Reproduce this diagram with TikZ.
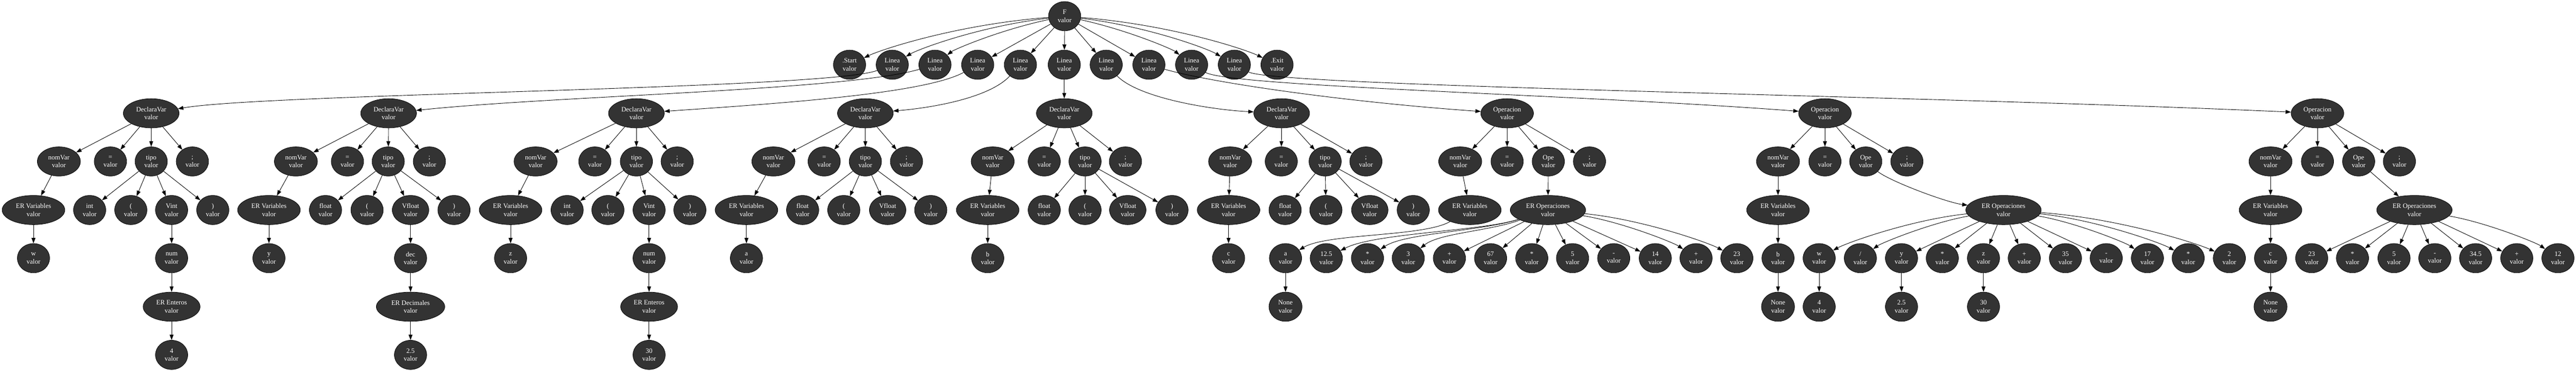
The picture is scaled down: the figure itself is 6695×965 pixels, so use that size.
\documentclass[tikz,border=0pt]{standalone}
\usepackage{fontspec}
\setmainfont{Liberation Serif}
\usetikzlibrary{shapes.geometric,arrows.meta}
\definecolor{nodegray}{HTML}{333333}
\tikzset{
  nd/.style={ellipse, draw=black, line width=0.5pt, fill=nodegray, text=white,
    font=\fontsize{8.7}{10.4}\selectfont, align=center, inner sep=0pt,
    minimum width=42pt, minimum height=38pt},
  wDV/.style={minimum width=72.5pt},
  wOp/.style={minimum width=68.5pt},
  wNom/.style={minimum width=56pt},
  wERV/.style={minimum width=81.5pt},
  wERE/.style={minimum width=74pt},
  wERD/.style={minimum width=89pt},
  wERO/.style={minimum width=98pt},
  wNone/.style={minimum width=43pt},
  arr/.style={draw=black, line width=0.6pt, -{Triangle[length=7pt,width=5pt]}},
}
\newcommand\cedge[3]{\draw[arr] (#1) .. controls +({0.5*(#3)},{12000/abs(#3)}) and +({-0.15*(#3)},-40) .. (#2);}
\newcommand\autoedge[3]{\pgfmathtruncatemacro\flagc{abs(#3)>299}\ifnum\flagc=1 \cedge{#1}{#2}{#3}\else\draw[arr] (#1) -- (#2);\fi}
\begin{document}
\begin{tikzpicture}[x=0.5pt,y=-0.5pt]
\useasboundingbox (0,0) rectangle (6695,965);
% ---------- levels 0 and 1
\node[nd] (F) at (2767,42) {F\\valor};
\node[nd] (S) at (2208,168) {.Start\\valor};
\foreach \k/\xx in {1/2319,2/2430,3/2541,4/2652,5/2766,6/2875,7/2986,8/3097,9/3208}
  {\node[nd] (L\k) at (\xx,168) {Linea\\valor};}
\node[nd] (X) at (3319,168) {.Exit\\valor};
\foreach \n/\dx in {S/-559,L1/-448,L2/-337,L3/-226,L4/-115,L5/-1,L6/108,L7/219,L8/330,L9/441,X/552}
  {\autoedge{F}{\n}{\dx}}
% ---------- DeclaraVar subtrees
\foreach \k/\xD/\xn/\xe/\xt/\xs/\xv/\xta/\xtb/\xtc/\xtd/\ty/\vt/\vw/\wv in {
 1/393/153/287/393/500/87/233/340/446/553/int/Vint/w/42pt,
 2/1010/769/903/1009/1116/699/846/954/1067/1180/float/Vfloat/y/47.5pt,
 3/1654/1392/1546/1654/1760/1327/1474/1580/1687/1793/int/Vint/z/42pt,
 4/2249/2010/2142/2249/2356/1940/2086/2193/2307/2419/float/Vfloat/a/47.5pt,
 5/2766/2580/2714/2820/2925/2567/2714/2820/2931/3046/float/Vfloat/b/47.5pt,
 6/3331/3197/3330/3444/3550/3193/3340/3446/3560/3673/float/Vfloat/c/47.5pt}
{
 \node[nd,wDV] (D\k) at (\xD,294) {DeclaraVar\\valor};
 \node[nd,wNom] (n\k) at (\xn,419) {nomVar\\valor};
 \node[nd] (e\k) at (\xe,419) {=\\valor};
 \node[nd] (t\k) at (\xt,419) {tipo\\valor};
 \node[nd] (s\k) at (\xs,419) {;\\valor};
 \node[nd,wERV] (v\k) at (\xv,545) {ER Variables\\valor};
 \node[nd] (ta\k) at (\xta,545) {\ty\\valor};
 \node[nd] (tb\k) at (\xtb,545) {(\\valor};
 \node[nd,minimum width=\wv] (tc\k) at (\xtc,545) {\vt\\valor};
 \node[nd] (td\k) at (\xtd,545) {)\\valor};
 \node[nd] (x\k) at (\xv,670) {\vw\\valor};
 \draw[arr] (D\k) -- (n\k);
 \draw[arr] (D\k) -- (e\k);
 \draw[arr] (D\k) -- (t\k);
 \draw[arr] (D\k) -- (s\k);
 \draw[arr] (n\k) -- (v\k);
 \draw[arr] (v\k) -- (x\k);
 \draw[arr] (t\k) -- (ta\k);
 \draw[arr] (t\k) -- (tb\k);
 \draw[arr] (t\k) -- (tc\k);
 \draw[arr] (t\k) -- (td\k);
}
% number chains
\node[nd] (g1) at (446,670) {num\\valor};
\node[nd,wERE] (h1) at (446,796) {ER Enteros\\valor};
\node[nd] (f1) at (446,921) {4\\valor};
\node[nd] (g2) at (1067,670) {dec\\valor};
\node[nd,wERD] (h2) at (1067,796) {ER Decimales\\valor};
\node[nd] (f2) at (1067,921) {2.5\\valor};
\node[nd] (g3) at (1687,670) {num\\valor};
\node[nd,wERE] (h3) at (1687,796) {ER Enteros\\valor};
\node[nd] (f3) at (1687,921) {30\\valor};
\foreach \k in {1,2,3}{
 \draw[arr] (tc\k) -- (g\k);
 \draw[arr] (g\k) -- (h\k);
 \draw[arr] (h\k) -- (f\k);
}
% ---------- Operacion subtrees
\foreach \k/\xO/\xn/\xe/\xp/\xs/\xv/\xa/\xo/\vw in {
 1/3917/3795/3917/4024/4131/3820/3341/4023/a,
 2/4743/4621/4743/4849/4956/4621/4621/5207/b,
 3/6023/5901/6023/6130/6236/5901/5901/6275/c}
{
 \node[nd,wOp] (O\k) at (\xO,294) {Operacion\\valor};
 \node[nd,wNom] (on\k) at (\xn,419) {nomVar\\valor};
 \node[nd] (oe\k) at (\xe,419) {=\\valor};
 \node[nd] (op\k) at (\xp,419) {Ope\\valor};
 \node[nd] (os\k) at (\xs,419) {;\\valor};
 \node[nd,wERV] (ov\k) at (\xv,545) {ER Variables\\valor};
 \node[nd,wERO] (oo\k) at (\xo,545) {ER Operaciones\\valor};
 \node[nd] (oa\k) at (\xa,670) {\vw\\valor};
 \node[nd,wNone] (oz\k) at (\xa,796) {None\\valor};
 \draw[arr] (O\k) -- (on\k);
 \draw[arr] (O\k) -- (oe\k);
 \draw[arr] (O\k) -- (op\k);
 \draw[arr] (O\k) -- (os\k);
 \draw[arr] (on\k) -- (ov\k);
 \draw[arr] (oa\k) -- (oz\k);
}
\draw[arr] (ov1) .. controls (3700,615) and (3450,605) .. (oa1);
\draw[arr] (ov2) -- (oa2);
\draw[arr] (ov3) -- (oa3);
\draw[arr] (op1) -- (oo1);
\draw[arr] (op2) .. controls +(60,50) and +(-150,-20) .. (oo2);
\draw[arr] (op3) -- (oo3);
% children of ER Operaciones 1
\foreach \i/\xx/\lab in {1/3447/12.5,2/3554/*,3/3660/3,4/3767/+,5/3874/67,6/3981/*,7/4087/5,8/4194/-,9/4302/14,10/4408/+,11/4514/23}
  {\node[nd] (r1-\i) at (\xx,670) {\lab\\valor};}
\draw[arr] (oo1) .. controls (3850,600) and (3570,605) .. (r1-1);
\draw[arr] (oo1) .. controls (3850,600) and (3650,605) .. (r1-2);
\draw[arr] (oo1) .. controls (3870,600) and (3740,605) .. (r1-3);
\foreach \i/\dx in {4/-256,5/-149,6/-42,7/64,8/171,9/279,10/385,11/491}
  {\autoedge{oo1}{r1-\i}{\dx}}
% children of ER Operaciones 2
\foreach \i/\xx/\lab in {1/4728/w,2/4835/\slash,3/4942/y,4/5048/*,5/5155/z,6/5261/+,7/5368/35,8/5474/-,9/5581/17,10/5687/*,11/5794/2}
  {\node[nd] (r2-\i) at (\xx,670) {\lab\\valor};}
\foreach \i/\dx in {1/-479,2/-372,3/-265,4/-159,5/-52,6/54,7/161,8/267,9/374,10/480,11/587}
  {\autoedge{oo2}{r2-\i}{\dx}}
\node[nd] (q1) at (4728,796) {4\\valor};
\node[nd] (q2) at (4942,796) {2.5\\valor};
\node[nd] (q3) at (5155,796) {30\\valor};
\draw[arr] (r2-1) -- (q1);
\draw[arr] (r2-3) -- (q2);
\draw[arr] (r2-5) -- (q3);
% children of ER Operaciones 3
\foreach \i/\xx/\lab in {1/6008/23,2/6114/*,3/6222/5,4/6328/-,5/6434/34.5,6/6541/+,7/6648/12}
  {\node[nd] (r3-\i) at (\xx,670) {\lab\\valor};}
\foreach \i/\dx in {1/-267,2/-161,3/-53,4/53,5/159,6/266,7/373}
  {\autoedge{oo3}{r3-\i}{\dx}}
% ---------- Linea -> statements
\draw[arr] (L1) .. controls (2150,232) and (700,242) .. (D1);
\draw[arr] (L2) .. controls (2200,235) and (1450,248) .. (D2);
\draw[arr] (L3) .. controls (2400,245) and (2000,270) .. (D3);
\draw[arr] (L4) .. controls (2570,255) and (2420,280) .. (D4);
\draw[arr] (L5) -- (D5);
\draw[arr] (L6) .. controls (2960,255) and (3150,285) .. (D6);
\draw[arr] (L7) .. controls (3150,215) and (3500,265) .. (O1);
\draw[arr] (L8) .. controls (3200,225) and (4100,245) .. (O2);
\draw[arr] (L9) .. controls (3320,225) and (5000,248) .. (O3);
\end{tikzpicture}
\end{document}
